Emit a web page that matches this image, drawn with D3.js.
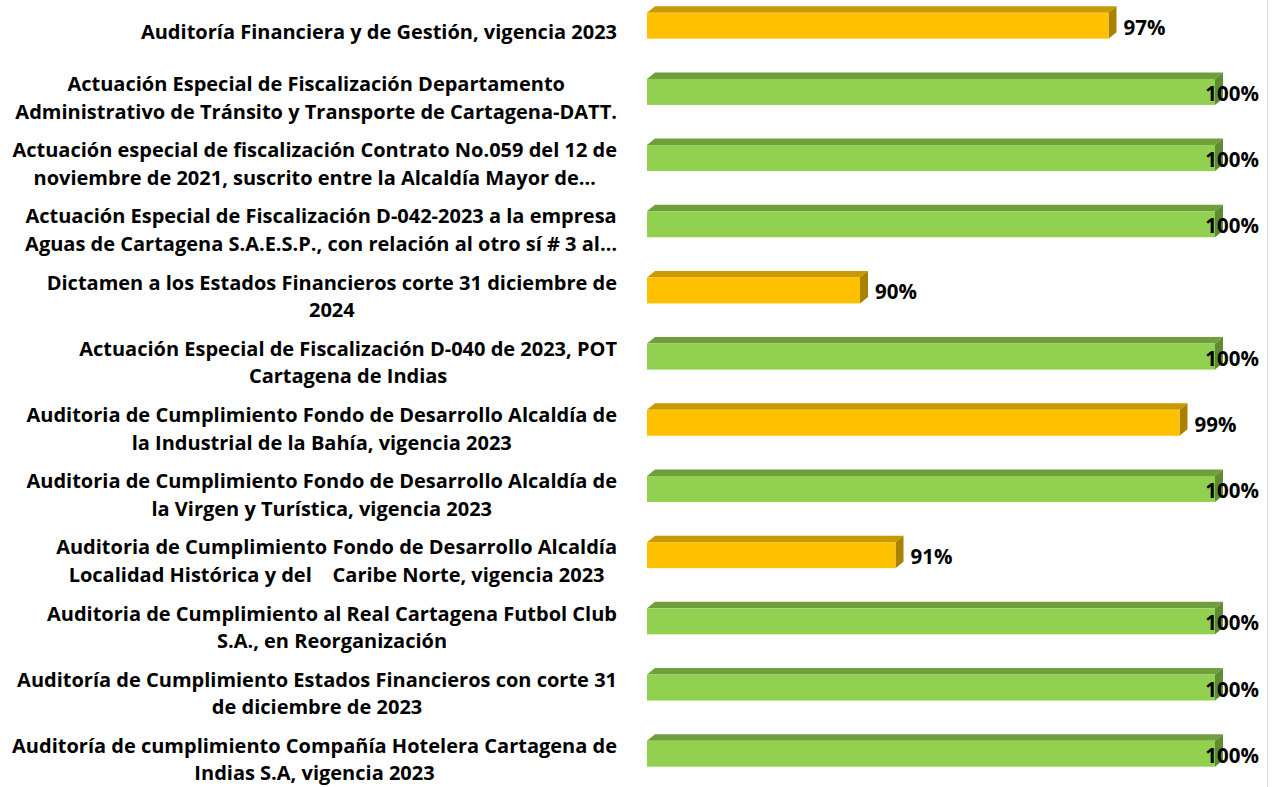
<!DOCTYPE html>
<html>
<head>
<meta charset="utf-8">
<script src="https://cdn.jsdelivr.net/npm/d3@7"></script>
<style>
    body { margin: 0; background: #ffffff; }
    svg text { font-family: "Open Sans", Lato, sans-serif; font-weight: bold; fill: #000000; font-variant-ligatures: none; }
</style>
</head>
<body>
<div id="chart"></div>
<script>

// categories, top to bottom ("\n" = line break as in the picture)
var categories = [
    "Auditoría Financiera y de Gestión, vigencia 2023",
    "Actuación Especial de Fiscalización Departamento\nAdministrativo de Tránsito y Transporte de Cartagena-DATT.",
    "Actuación especial de fiscalización Contrato No.059 del 12 de\nnoviembre de 2021, suscrito entre la Alcaldía Mayor de…",
    "Actuación Especial de Fiscalización D-042-2023 a la empresa\nAguas de Cartagena S.A.E.S.P., con relación al otro sí # 3 al…",
    "Dictamen a los Estados Financieros corte 31 diciembre de\n2024",
    "Actuación Especial de Fiscalización D-040 de 2023, POT\nCartagena de Indias",
    "Auditoria de Cumplimiento Fondo de Desarrollo Alcaldía de\nla Industrial de la Bahía, vigencia 2023",
    "Auditoria de Cumplimiento Fondo de Desarrollo Alcaldía de\nla Virgen y Turística, vigencia 2023",
    "Auditoria de Cumplimiento Fondo de Desarrollo Alcaldía\nLocalidad Histórica y del    Caribe Norte, vigencia 2023",
    "Auditoria de Cumplimiento al Real Cartagena Futbol Club\nS.A., en Reorganización",
    "Auditoría de Cumplimiento Estados Financieros con corte 31\nde diciembre de 2023",
    "Auditoría de cumplimiento Compañía Hotelera Cartagena de\nIndias S.A, vigencia 2023"
];

// percentage of execution per audit
var values = [0.97, 1.00, 1.00, 1.00, 0.90, 1.00, 0.99, 1.00, 0.91, 1.00, 1.00, 1.00];

// value axis (hidden) runs from 84% to 100%
var xDomain = [0.84, 1.00];

// colours: front / top / side
var goldFace = ["#FFC000", "#C89A00", "#A98100"];
var greenFace = ["#92D050", "#6F9E3D", "#5F8B33"];


function BarChart3D(id) {
    var self = this;
    self.sectionId = id;
    self.initVis();
}

BarChart3D.prototype.initVis = function () {
    var self = this;

    self.svgWidth = 1274;
    self.svgHeight = 787;
    self.depthX = 8;
    self.depthY = 6.5;
    self.barHeight = 26;
    self.labelRight = 617;
    self.lineHeight = 27.5;

    self.svg = d3.select(`#${self.sectionId}`)
        .append("svg")
        .attr("width", self.svgWidth)
        .attr("height", self.svgHeight);

    self.x = d3.scaleLinear()
        .domain(xDomain)
        .range([647, 1215]);

    // centre of each bar's front face
    self.y = d3.scalePoint()
        .domain(categories)
        .range([25.7, 753.7]);

    self.data = categories.map(function (c, i) {
        return { name: c, value: values[i] };
    });

    // chart area border on the right
    self.svg.append("line")
        .attr("x1", 1267.5).attr("x2", 1267.5)
        .attr("y1", 0).attr("y2", self.svgHeight)
        .attr("stroke", "#D9D9D9")
        .attr("stroke-width", 1);

    var bars = self.svg.selectAll(".bar")
        .data(self.data)
        .join("g")
        .attr("class", "bar");

    var colorsOf = function (d) { return d.value < 1 ? goldFace : greenFace; };

    // top face
    bars.append("path")
        .attr("fill", function (d) { return colorsOf(d)[1]; })
        .attr("d", function (d) {
            var x0 = self.x(xDomain[0]), x1 = self.x(d.value);
            var yt = self.y(d.name) - self.barHeight / 2;
            return `M${x0},${yt} L${x0 + self.depthX},${yt - self.depthY} L${x1 + self.depthX},${yt - self.depthY} L${x1},${yt} Z`;
        });

    // side face
    bars.append("path")
        .attr("fill", function (d) { return colorsOf(d)[2]; })
        .attr("d", function (d) {
            var x1 = self.x(d.value);
            var yt = self.y(d.name) - self.barHeight / 2;
            var yb = yt + self.barHeight;
            return `M${x1},${yt} L${x1 + self.depthX},${yt - self.depthY} L${x1 + self.depthX},${yb - self.depthY} L${x1},${yb} Z`;
        });

    // front face
    bars.append("rect")
        .attr("x", self.x(xDomain[0]))
        .attr("y", function (d) { return self.y(d.name) - self.barHeight / 2; })
        .attr("width", function (d) { return self.x(d.value) - self.x(xDomain[0]); })
        .attr("height", self.barHeight)
        .attr("fill", function (d) { return colorsOf(d)[0]; });

    // value labels, kept inside the chart area
    var fmt = d3.format(".0%");
    self.svg.selectAll(".valueLabel")
        .data(self.data)
        .join("text")
        .attr("class", "valueLabel")
        .attr("font-size", 20.5)
        .attr("y", function (d) { return self.y(d.name) + 9; })
        .text(function (d) { return fmt(d.value); })
        .attr("x", function (d) {
            var w = this.getComputedTextLength();
            return Math.min(self.x(d.value) + 15, 1259 - w);
        });

    // category labels: lines centred, block right aligned
    self.svg.selectAll(".catLabel")
        .data(self.data)
        .join("text")
        .attr("class", "catLabel")
        .attr("font-size", 20)
        .attr("text-anchor", "middle")
        .style("white-space", "pre")
        .each(function (d) {
            var t = d3.select(this);
            var lines = d.name.split("\n");
            var y0 = self.y(d.name) + 13 - (lines.length - 1) * self.lineHeight / 2;
            var spans = lines.map(function (line, i) {
                return t.append("tspan")
                    .attr("y", y0 + i * self.lineHeight)
                    .text(line);
            });
            var maxW = d3.max(spans, function (s) { return s.node().getComputedTextLength(); });
            spans.forEach(function (s) { s.attr("x", self.labelRight - maxW / 2); });
        });
};

new BarChart3D("chart");

</script>
</body>
</html>
